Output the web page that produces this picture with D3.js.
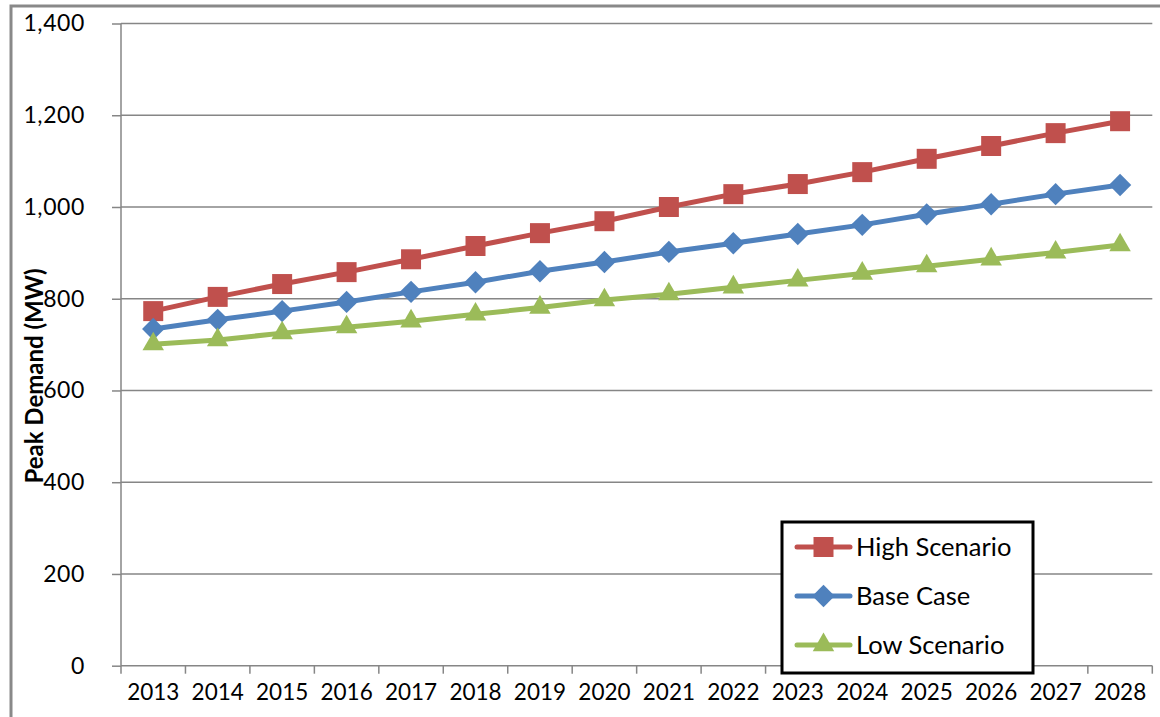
<!DOCTYPE html>
<html><head><meta charset="utf-8">
<script src="https://cdn.jsdelivr.net/npm/d3@7"></script>
<style>body{margin:0;background:#fff}svg{display:block}</style>
</head><body>
<svg id="c" width="1160" height="717"></svg>
<script>
const years = ["2013","2014","2015","2016","2017","2018","2019","2020","2021","2022","2023","2024","2025","2026","2027","2028"];
const high = [773,804,832,858,886,915,943,969,1000,1028,1050,1076,1105,1133,1161,1187];
const base = [734,754,773,793,815,836,860,880,902,921,941,961,984,1006,1028,1048];
const low  = [701,710,725,738,751,766,781,797,810,825,840,855,871,886,901,917];
const yTicks = [0,200,400,600,800,1000,1200,1400];
const seriesNames = ["High Scenario","Base Case","Low Scenario"];

const svg = d3.select("#c");
const font = "Lato, 'Open Sans', sans-serif";
const L=121, R=1152.3, T=23.5, B=665.7;
const x = d3.scaleBand().domain(years).range([L,R]);
const y = d3.scaleLinear().domain([0,1400]).range([B,T]);
const grid = "#868686";

// outer border
svg.append("rect").attr("x",11).attr("y",6).attr("width",1200).attr("height",800)
  .attr("fill","none").attr("stroke","#898989").attr("stroke-width",3);

// gridlines
svg.append("g").selectAll("line").data(yTicks.filter(d=>d>0)).join("line")
  .attr("x1",L).attr("x2",R).attr("y1",d=>y(d)).attr("y2",d=>y(d))
  .attr("stroke",grid).attr("stroke-width",1.5);

// y axis
const ya = svg.append("g").attr("transform",`translate(${L},0)`)
  .call(d3.axisLeft(y).tickValues(yTicks).tickSize(9).tickPadding(27).tickFormat(d3.format(",")));
ya.select(".domain").attr("stroke",grid).attr("stroke-width",1.5).attr("d",`M0,${B}V${T}`);
ya.selectAll(".tick line").attr("stroke",grid).attr("stroke-width",1.5);
ya.selectAll("text").attr("font-family",font).attr("font-size","23px").attr("fill","#000")
  .attr("letter-spacing","0.6px");

// x axis
const xa = svg.append("g").attr("transform",`translate(0,${B})`)
  .call(d3.axisBottom(x).tickSize(0).tickPadding(18));
xa.select(".domain").attr("stroke",grid).attr("stroke-width",1.5).attr("d",`M${L},0H${R}`);
xa.selectAll("text").attr("font-family",font).attr("font-size","22.5px").attr("fill","#000");
svg.append("g").selectAll("line").data(years.concat(["end"])).join("line")
  .attr("x1",(d,i)=>L+i*x.bandwidth()).attr("x2",(d,i)=>L+i*x.bandwidth())
  .attr("y1",B).attr("y2",B+8).attr("stroke",grid).attr("stroke-width",1.5);

// y title
svg.append("text").attr("transform","translate(43,376) rotate(-90)")
  .attr("text-anchor","middle").attr("font-family",font).attr("font-weight","bold")
  .attr("font-size","24px").text("Peak Demand (MW)");

const colors = ["#C0504D","#4F81BD","#9BBB59"];
const data = [high, base, low];
const cx = d => x(d) + x.bandwidth()/2;
const line = d3.line().x((d,i)=>cx(years[i])).y(d=>y(d));
const sym = [d3.symbolSquare, d3.symbolSquare, d3.symbolTriangle];
const symSize = [400, 250, 200];
const symRot = [0, 45, 0];

data.forEach((vals,k)=>{
  svg.append("path").datum(vals).attr("d",line).attr("fill","none")
    .attr("stroke",colors[k]).attr("stroke-width",5).attr("stroke-linejoin","round");
});
data.forEach((vals,k)=>{
  svg.append("g").selectAll("path").data(vals).join("path")
    .attr("transform",(d,i)=>`translate(${cx(years[i])},${y(d)}) rotate(${symRot[k]})`)
    .attr("d",d3.symbol().type(sym[k]).size(symSize[k])).attr("fill",colors[k]);
});

// legend
const lg = svg.append("g");
lg.append("rect").attr("x",782).attr("y",522).attr("width",251).attr("height",151)
  .attr("fill","#fff").attr("stroke","#000").attr("stroke-width",3);
const ly = [547,596,645];
seriesNames.forEach((n,k)=>{
  lg.append("line").attr("x1",797).attr("x2",850).attr("y1",ly[k]).attr("y2",ly[k])
    .attr("stroke",colors[k]).attr("stroke-width",5).attr("stroke-linecap","round");
  lg.append("path").attr("transform",`translate(823.5,${ly[k]}) rotate(${symRot[k]})`)
    .attr("d",d3.symbol().type(sym[k]).size(symSize[k])).attr("fill",colors[k]);
  lg.append("text").attr("x",856).attr("y",ly[k]+9).attr("font-family",font)
    .attr("font-size","25.5px").text(n);
});
</script>
</body></html>
